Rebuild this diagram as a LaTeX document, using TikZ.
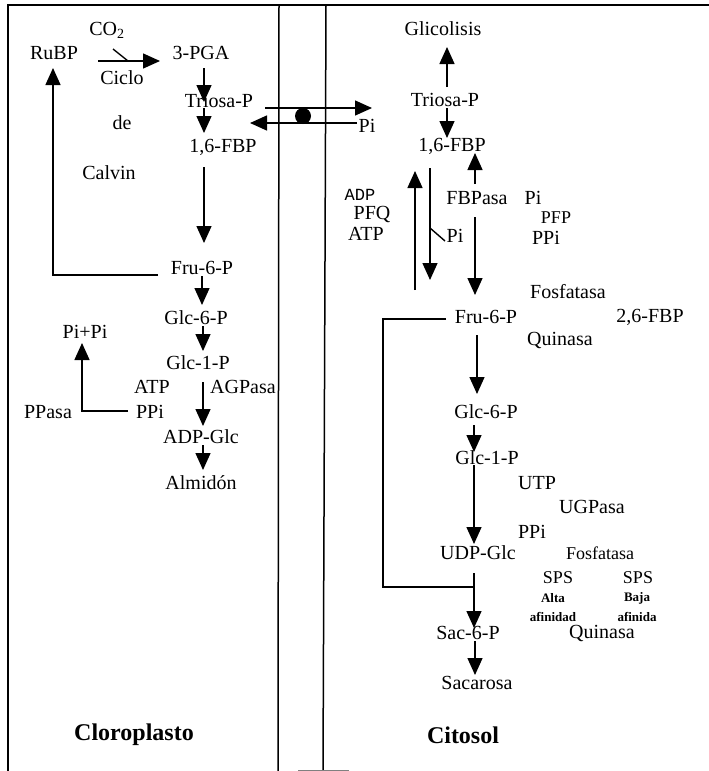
\documentclass[tikz,border=0pt]{standalone}
\usepackage{fontspec}
\setmainfont{Liberation Serif}
\newfontfamily\monof{Liberation Mono}
\usetikzlibrary{arrows.meta}
\begin{document}
\begin{tikzpicture}[x=1pt,y=-1pt,
  lbl/.style={inner sep=0pt, font=\fontsize{20}{22}\selectfont},
  mid/.style={inner sep=0pt, font=\fontsize{18}{20}\selectfont},
  tiny/.style={inner sep=0pt, font=\bfseries\fontsize{13}{14}\selectfont},
  mono/.style={inner sep=0pt, font=\monof\fontsize{17}{18}\selectfont},
  ttl/.style={inner sep=0pt, font=\bfseries\fontsize{24}{26}\selectfont},
  arr/.style={line width=1.4pt, -{Triangle[length=17pt,width=15pt]}},
  ln/.style={line width=1.4pt},
  wall/.style={line width=1.5pt}]
\useasboundingbox (0,0) rectangle (709,771);

% compartment walls
\coordinate (wtl) at (8,5);
\coordinate (wbl) at (8,771);
\coordinate (wtr) at (709,5);
\draw[wall] (wbl) -- (wtl) -- (wtr);
\coordinate (m1t) at (279,5);
\coordinate (m1b) at (278,771);
\coordinate (m2t) at (326,5);
\coordinate (m2b) at (323,771);
\draw[wall] (m1t) -- (m1b);
\draw[wall] (m2t) -- (m2b);
\coordinate (gl1) at (298,770);
\coordinate (gl2) at (349,770);
\draw[line width=1pt, gray] (gl1) -- (gl2);

% ---------- Chloroplast ----------
\node[lbl] (co2) at (107,30) {CO\textsubscript{2}};
\node[lbl] (rubp) at (54,53) {RuBP};
\node[lbl] (pga) at (201,53) {3-PGA};
\node[lbl] (ciclo) at (122,78) {Ciclo};
\node[lbl] (ctrio) at (219,101) {Triosa-P};
\node[lbl] (de) at (122,123) {de};
\node[lbl] (cfbp) at (223,147) {1,6-FBP};
\node[lbl] (calvin) at (109,173) {Calvin};
\node[lbl] (cfru) at (202,268) {Fru-6-P};
\node[lbl] (cg6) at (196,318) {Glc-6-P};
\node[lbl] (pipi) at (85,332) {Pi+Pi};
\node[lbl] (cg1) at (198,363) {Glc-1-P};
\node[lbl] (catp) at (152,387) {ATP};
\node[lbl] (agp) at (243,387) {AGPasa};
\node[lbl] (ppasa) at (48,412) {PPasa};
\node[lbl] (cppi) at (150,412) {PPi};
\node[lbl] (adpg) at (201,437) {ADP-Glc};
\node[lbl] (alm) at (201,483) {Almidón};
\node[ttl] (clor) at (134,735) {Cloroplasto};

\coordinate (c1a) at (98,61);  \coordinate (c1b) at (160,61);
\draw[arr] (c1a) -- (c1b);
\coordinate (t1a) at (113,49); \coordinate (t1b) at (128,61);
\draw[ln] (t1a) -- (t1b);
\coordinate (c2a) at (204,68);  \coordinate (c2b) at (204,102);
\draw[arr] (c2a) -- (c2b);
\coordinate (c3a) at (204,108); \coordinate (c3b) at (204,133);
\draw[arr] (c3a) -- (c3b);
\coordinate (c4a) at (204,167); \coordinate (c4b) at (204,243);
\draw[arr] (c4a) -- (c4b);
\coordinate (c5a) at (158,275); \coordinate (c5k) at (53,275); \coordinate (c5b) at (53,68);
\draw[arr] (c5a) -- (c5k) -- (c5b);
\coordinate (c6a) at (202,276); \coordinate (c6b) at (202,305);
\draw[arr] (c6a) -- (c6b);
\coordinate (c7a) at (203,326); \coordinate (c7b) at (203,351);
\draw[arr] (c7a) -- (c7b);
\coordinate (c8a) at (203,382); \coordinate (c8b) at (203,426);
\draw[arr] (c8a) -- (c8b);
\coordinate (c9a) at (203,445); \coordinate (c9b) at (203,470);
\draw[arr] (c9a) -- (c9b);
\coordinate (c10a) at (128,411); \coordinate (c10k) at (82,411); \coordinate (c10b) at (82,343);
\draw[arr] (c10a) -- (c10k) -- (c10b);

% ---------- Transporter ----------
\coordinate (tr1a) at (265,108); \coordinate (tr1b) at (372,108);
\draw[arr] (tr1a) -- (tr1b);
\coordinate (tr2a) at (357,123); \coordinate (tr2b) at (250,123);
\draw[arr] (tr2a) -- (tr2b);
\node[circle, fill=black, inner sep=0pt, minimum size=16pt] (dot) at (303,116) {};
\node[lbl] (tpi) at (367,126) {Pi};

% ---------- Cytosol ----------
\node[lbl] (gluc) at (443,29) {Glicolisis};
\node[lbl] (rtrio) at (445,100) {Triosa-P};
\node[lbl] (rfbp) at (452,146) {1,6-FBP};
\node[mono] (adp) at (360,195) {ADP};
\node[lbl] (pfq) at (372,214) {PFQ};
\node[lbl] (ratp) at (366,234) {ATP};
\node[lbl] (fbpasa) at (477,198) {FBPasa};
\node[lbl] (rpi1) at (533,198) {Pi};
\node[mid] (pfp) at (556,218) {PFP};
\node[lbl] (rpi2) at (455,236) {Pi};
\node[lbl] (rppi1) at (546,238) {PPi};
\node[lbl] (fosf1) at (568,292) {Fosfatasa};
\node[lbl] (rfru) at (486,317) {Fru-6-P};
\node[lbl] (fbp26) at (650,317) {2,6-FBP};
\node[lbl] (quin1) at (560,340) {Quinasa};
\node[lbl] (rg6) at (486,412) {Glc-6-P};
\node[lbl] (rg1) at (487,458) {Glc-1-P};
\node[lbl] (utp) at (537,483) {UTP};
\node[lbl] (ugp) at (592,507) {UGPasa};
\node[lbl] (rppi2) at (532,532) {PPi};
\node[lbl] (udpg) at (478,553) {UDP-Glc};
\node[mid] (fosf2) at (600,553) {Fosfatasa};
\node[mid] (sps1) at (558,578) {SPS};
\node[mid] (sps2) at (638,578) {SPS};
\node[tiny] (alta) at (553,598) {Alta};
\node[tiny] (afin1) at (553,617) {afinidad};
\node[tiny] (baja) at (637,598) {Baja};
\node[tiny] (afin2) at (637,617) {afinida};
\node[lbl] (sac6) at (468,633) {Sac-6-P};
\node[lbl] (quin2) at (602,633) {Quinasa};
\node[lbl] (sac) at (477,683) {Sacarosa};
\node[ttl] (cito) at (463,735) {Citosol};

\coordinate (r1a) at (447,87);  \coordinate (r1b) at (447,47);
\draw[arr] (r1a) -- (r1b);
\coordinate (r2a) at (447,108); \coordinate (r2b) at (447,138);
\draw[arr] (r2a) -- (r2b);
\coordinate (r3a) at (475,184); \coordinate (r3b) at (475,153);
\draw[arr] (r3a) -- (r3b);
\coordinate (r4a) at (475,217); \coordinate (r4b) at (475,295);
\draw[arr] (r4a) -- (r4b);
\coordinate (r5a) at (415,290); \coordinate (r5b) at (415,171);
\draw[arr] (r5a) -- (r5b);
\coordinate (r6a) at (430,168); \coordinate (r6b) at (430,280);
\draw[arr] (r6a) -- (r6b);
\coordinate (t2a) at (430,228); \coordinate (t2b) at (445,241);
\draw[ln] (t2a) -- (t2b);
\coordinate (r7a) at (446,319); \coordinate (r7k1) at (383,319);
\coordinate (r7k2) at (383,587); \coordinate (r7b) at (474,587);
\draw[ln] (r7a) -- (r7k1) -- (r7k2) -- (r7b);
\coordinate (r8a) at (477,335); \coordinate (r8b) at (477,394);
\draw[arr] (r8a) -- (r8b);
\coordinate (r9a) at (474,425); \coordinate (r9b) at (474,452);
\draw[arr] (r9a) -- (r9b);
\coordinate (r10a) at (474,465); \coordinate (r10b) at (474,544);
\draw[arr] (r10a) -- (r10b);
\coordinate (r11a) at (474,573); \coordinate (r11b) at (474,628);
\draw[arr] (r11a) -- (r11b);
\coordinate (r12a) at (475,641); \coordinate (r12b) at (475,675);
\draw[arr] (r12a) -- (r12b);
\end{tikzpicture}
\end{document}
